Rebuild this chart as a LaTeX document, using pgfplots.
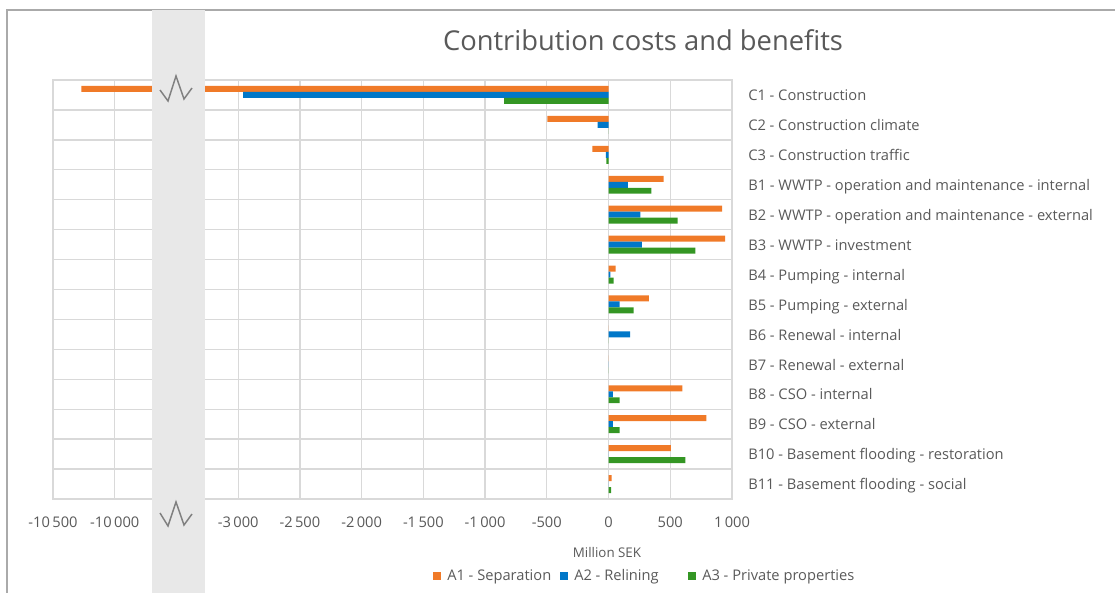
\documentclass[border=0pt]{standalone}
\usepackage{fontspec}
\setmainfont{Open Sans}
\usepackage{pgfplots}
\usepackage{pgfplotstable}
\pgfplotsset{compat=1.18}

\definecolor{cA}{RGB}{240,122,40}
\definecolor{cB}{RGB}{0,119,200}
\definecolor{cC}{RGB}{52,150,36}
\definecolor{txt}{RGB}{89,89,89}
\definecolor{gridc}{RGB}{217,217,217}
\definecolor{band}{RGB}{232,232,232}
\definecolor{framec}{RGB}{170,170,170}
\definecolor{zig}{RGB}{128,128,128}

% values in million SEK (real values; values below -3500 are drawn shifted across the axis break)
\pgfplotstableread{
idx A1 A2 A3
0 -10270 -2960 -845
1 -495 -89 0
2 -132 -22 -18
3 447 157 347
4 919 258 560
5 945 270 703
6 58 15 42
7 327 90 203
8 0 175 0
9 0 0 0
10 598 36 90
11 792 36 90
12 504 0 622
13 24 0 21
}\datatable

\begin{document}
\begin{tikzpicture}
\begin{scope}[x=0.75pt,y=-0.75pt]
\path[use as bounding box] (0,0) rectangle (1115,593);
\draw[framec, line width=1.2pt] (7,593) -- (7,10) -- (1115,10);
\end{scope}

\begin{axis}[
  at={(39.75pt,-374.25pt)}, anchor=south west,
  scale only axis, width=509.25pt, height=314.25pt,
  xbar, bar width=0.2,
  xmin=-4500, xmax=1000, ymin=-0.5, ymax=13.5,
  y dir=reverse,
  xtick={-4500,-4000,-3000,-2500,-2000,-1500,-1000,-500,0,500,1000},
  xticklabels={-10\,500,-10\,000,-3\,000,-2\,500,-2\,000,-1\,500,-1\,000,-500,0,500,1\,000},
  ytick={0,...,13},
  yticklabels={C1 - Construction, C2 - Construction climate, C3 - Construction traffic,
    B1 - WWTP - operation and maintenance - internal,
    B2 - WWTP - operation and maintenance - external,
    B3 - WWTP - investment, B4 - Pumping - internal, B5 - Pumping - external,
    B6 - Renewal - internal, B7 - Renewal - external, B8 - CSO - internal,
    B9 - CSO - external, B10 - Basement flooding - restoration,
    B11 - Basement flooding - social},
  minor ytick={-0.5,0.5,...,13.5},
  yminorgrids, xmajorgrids,
  major tick length=0pt, minor tick length=0pt,
  grid style={gridc, line width=1pt},
  minor grid style={gridc, line width=1pt},
  axis line style={gridc, line width=1pt},
  yticklabel pos=right,
  yticklabel style={anchor=west, inner sep=0pt, text height=8pt, text depth=2.4pt, xshift=12pt, yshift=-1.5pt, font=\fontsize{11}{13}\selectfont, text=txt},
  xticklabel style={inner sep=0pt, yshift=-13pt, font=\fontsize{11}{13}\selectfont, text=txt},
  axis on top=false,
]
\addplot[fill=cA, draw=none, bar shift=-0.2] table[x expr={ifthenelse(\thisrow{A1}<-3500,\thisrow{A1}+6000,\thisrow{A1})}, y=idx] {\datatable};
\addplot[fill=cB, draw=none, bar shift=0] table[x expr={ifthenelse(\thisrow{A2}<-3500,\thisrow{A2}+6000,\thisrow{A2})}, y=idx] {\datatable};
\addplot[fill=cC, draw=none, bar shift=0.2] table[x expr={ifthenelse(\thisrow{A3}<-3500,\thisrow{A3}+6000,\thisrow{A3})}, y=idx] {\datatable};
\end{axis}

\begin{scope}[x=0.75pt,y=-0.75pt]
% axis break band
\fill[band] (152,10) rectangle (205,593);
\draw[zig, line width=1.1pt, line join=miter] (160,90) -- (168,101) -- (176,76) -- (184,99) -- (192,88);
\draw[zig, line width=1.1pt, line join=miter] (160,513) -- (168,526) -- (176,502) -- (184,525) -- (192,514);
% title
\node[text=txt, font=\fontsize{20.5}{24}\selectfont, inner sep=0pt] at (643,40) {Contribution costs and benefits};
% axis title
\node[text=txt, font=\fontsize{10}{12}\selectfont, inner sep=0pt] at (607,552) {Million SEK};
% legend
\fill[cA] (433,572) rectangle (441,580);
\node[text=txt, font=\fontsize{11}{13}\selectfont, inner sep=0pt, anchor=west] at (447,577) {A1 - Separation};
\fill[cB] (560,572) rectangle (568,580);
\node[text=txt, font=\fontsize{11}{13}\selectfont, inner sep=0pt, anchor=west] at (574,577) {A2 - Relining};
\fill[cC] (688,572) rectangle (696,580);
\node[text=txt, font=\fontsize{11}{13}\selectfont, inner sep=0pt, anchor=west] at (702,577) {A3 - Private properties};
\end{scope}
\end{tikzpicture}
\end{document}
